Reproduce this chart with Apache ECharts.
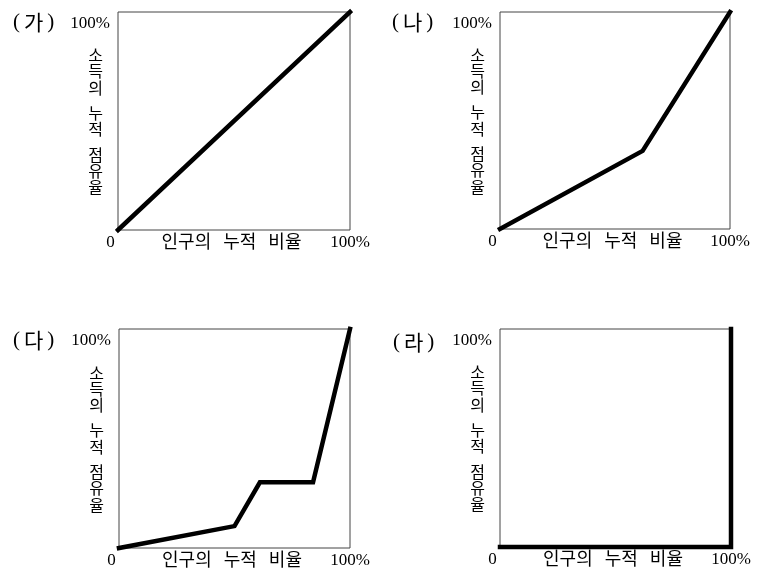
<!DOCTYPE html>
<html>
<head>
<meta charset="utf-8">
<script src="https://cdn.jsdelivr.net/npm/echarts@6/dist/echarts.min.js"></script>
<style>
html,body{margin:0;padding:0;background:#fff;}
#c{width:765px;height:572px;}
</style>
</head>
<body>
<div id="c"></div>
<script>
const panelNames = ['가', '나', '다', '라'];
const xAxisName = '인구의 누적 비율';
const yAxisName = '소득의 누적 점유율';
const tickValues = [0, 100];
const tickLabelZero = '0';
const tickLabelMax = '100%';
const lineA = [[0, 0], [100, 100]];
const lineB = [[0, 0], [62, 36], [100, 100]];
const lineC = [[0, 0], [50, 10], [61, 30], [84, 30], [100, 100]];
const lineD = [[0, 0], [100, 0], [100, 100]];
const seriesData = [lineA, lineB, lineC, lineD];

const grids = [
  {left: 118, top: 12, width: 232, height: 218},
  {left: 500, top: 12, width: 230, height: 217},
  {left: 119, top: 329, width: 231, height: 219},
  {left: 500, top: 329, width: 231, height: 218}
];
const labelPos = [[13, 12], [392, 12], [13, 330], [393, 332]];

const serif = '"Liberation Serif", "DejaVu Serif", serif';
const kr = '"Noto Sans CJK KR", "Noto Sans", sans-serif';

// vertical stacked axis name; word breaks become short spacer lines
const vertName = yAxisName.split(' ').map(w => w.split('').join('\n')).join('\n{s| }\n');
// horizontal axis name with slightly wider word gaps
const horzName = xAxisName.split(' ').join('{g| }');

const option = {
  animation: false,
  backgroundColor: '#fff',
  grid: grids.map(g => Object.assign({show: true, borderColor: '#444', borderWidth: 1, backgroundColor: 'transparent'}, g)),
  xAxis: grids.map((g, i) => ({
    type: 'value', gridIndex: i, min: tickValues[0], max: tickValues[1], interval: tickValues[1] - tickValues[0],
    axisLine: {show: false}, axisTick: {show: false}, splitLine: {show: false},
    axisLabel: {
      margin: 4,
      formatter: v => v === 0 ? '{z|' + tickLabelZero + '}' : '{n|' + tickLabelMax + '}',
      rich: {
        z: {fontFamily: serif, fontSize: 17, color: '#000', padding: [0, 15, 0, 0]},
        n: {fontFamily: serif, fontSize: 17, color: '#000'}
      }
    },
    name: horzName, nameLocation: 'middle', nameGap: 2, nameMoveOverlap: false,
    nameTextStyle: {
      fontFamily: kr, fontSize: 18, color: '#000', verticalAlign: 'top', padding: [0, 5, 0, 0],
      rich: {g: {fontFamily: kr, fontSize: 18, padding: [0, 4, 0, 4]}}
    }
  })),
  yAxis: grids.map((g, i) => ({
    type: 'value', gridIndex: i, min: tickValues[0], max: tickValues[1], interval: tickValues[1] - tickValues[0],
    axisLine: {show: false}, axisTick: {show: false}, splitLine: {show: false},
    axisLabel: {
      margin: 8, verticalAlign: 'top', padding: [3, 0, 0, 0],
      fontFamily: serif, fontSize: 17, color: '#000',
      formatter: v => v === 0 ? '' : tickLabelMax
    },
    name: vertName, nameLocation: 'middle', nameRotate: 0, nameGap: 15, nameMoveOverlap: false,
    nameTextStyle: {
      fontFamily: kr, fontSize: 16, lineHeight: 16.3, color: '#000', align: 'right', verticalAlign: 'middle',
      rich: {s: {fontSize: 8, lineHeight: 9}}
    }
  })),
  series: seriesData.map((d, i) => ({
    type: 'line', xAxisIndex: i, yAxisIndex: i, data: d,
    symbol: 'none', clip: false, silent: true,
    lineStyle: {color: '#000', width: 4.5, cap: 'square', join: 'miter'}
  })),
  graphic: panelNames.map((t, i) => ({
    type: 'text', left: labelPos[i][0], top: labelPos[i][1],
    style: {
      text: '{p|(}{k|' + t + '}{p|)}',
      rich: {
        p: {font: '21px ' + serif, fill: '#000'},
        k: {font: '21px ' + kr, fill: '#000', padding: [0, 4, 0, 4]}
      }
    }
  }))
};

const chart = echarts.init(document.getElementById('c'), null, {renderer: 'canvas'});
chart.setOption(option);
</script>
</body>
</html>
